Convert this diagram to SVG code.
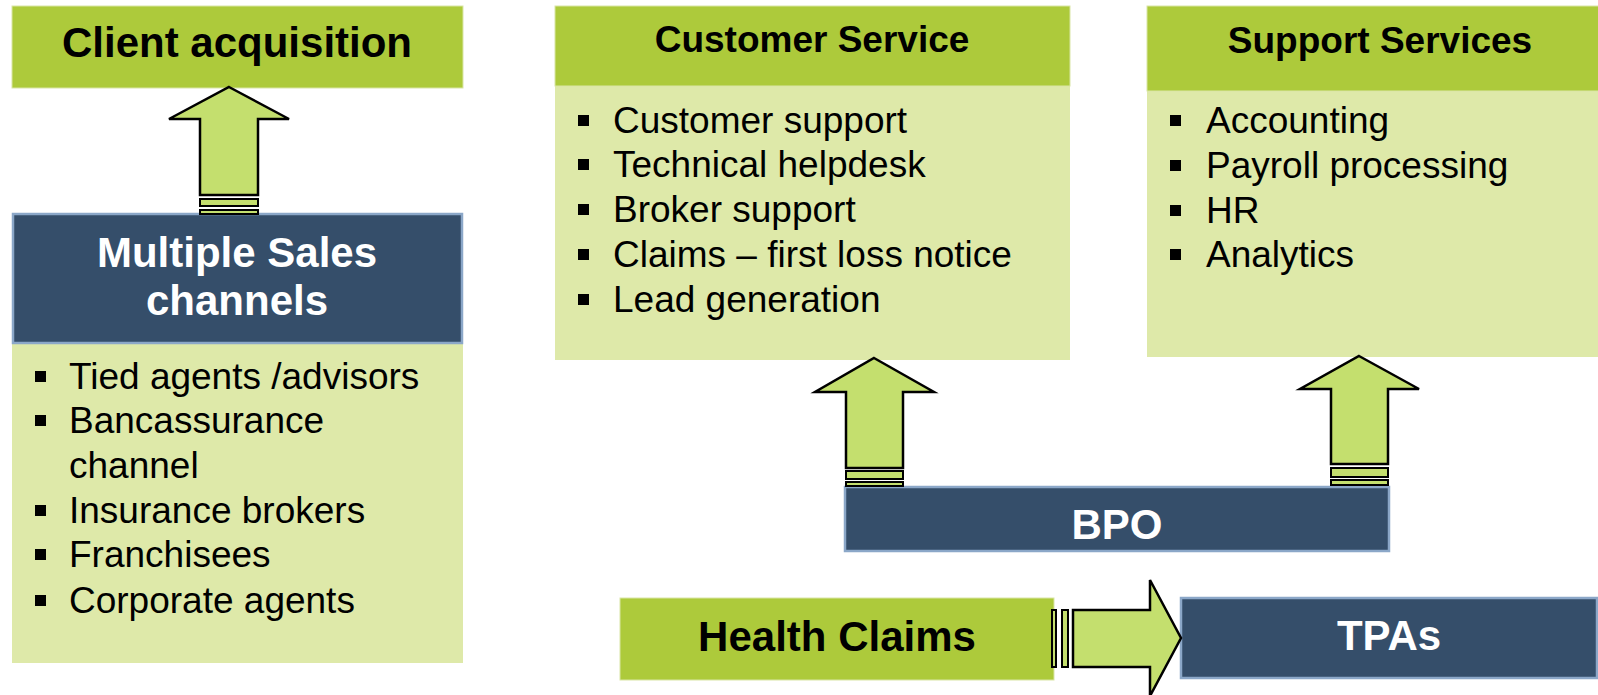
<svg xmlns="http://www.w3.org/2000/svg" width="1598" height="695" viewBox="0 0 1598 695">
  <style>
    .hdr { fill: #adca3b; stroke: #d9e6a6; stroke-width: 1; }
    .body { fill: #dee9a9; }
    .navy { fill: #354e6a; stroke: #8ba7c8; stroke-width: 2.5; }
    .arrow { fill: #c4df6e; stroke: #000; stroke-width: 2.5; stroke-linejoin: miter; }
    .stripe { fill: #c4df6e; stroke: #000; stroke-width: 2; }
    .title { font-family: "Liberation Sans", Arial, sans-serif; font-weight: bold; fill: #000; text-anchor: middle; }
    .wtitle { font-family: "Liberation Sans", Arial, sans-serif; font-weight: bold; fill: #fff; text-anchor: middle; }
    .item { font-family: "Liberation Sans", Arial, sans-serif; font-size: 37px; fill: #000; }
    .bullet { fill: #000; }
  </style>
  <rect width="1598" height="695" fill="#fff"/>

  <!-- Left column: client acquisition -->
  <g id="client-acquisition">
    <rect class="hdr" x="12" y="6" width="451" height="82"/>
    <text class="title" x="237" y="57" font-size="42">Client acquisition</text>
  </g>

  <g id="sales-channels">
    <rect class="body" x="12" y="343" width="451" height="320"/>
    <rect class="navy" x="13" y="214" width="449" height="129"/>
    <text class="wtitle" x="237" y="267" font-size="42">Multiple Sales</text>
    <text class="wtitle" x="237" y="315" font-size="42">channels</text>
    <rect class="bullet" x="35" y="371" width="11" height="11"/>
    <text class="item" x="69" y="389">Tied agents /advisors</text>
    <rect class="bullet" x="35" y="415" width="11" height="11"/>
    <text class="item" x="69" y="433">Bancassurance</text>
    <text class="item" x="69" y="478">channel</text>
    <rect class="bullet" x="35" y="505" width="11" height="11"/>
    <text class="item" x="69" y="523">Insurance brokers</text>
    <rect class="bullet" x="35" y="549" width="11" height="11"/>
    <text class="item" x="69" y="567">Franchisees</text>
    <rect class="bullet" x="35" y="595" width="11" height="11"/>
    <text class="item" x="69" y="613">Corporate agents</text>
  </g>

  <!-- Customer service -->
  <g id="customer-service">
    <rect class="body" x="555" y="86" width="515" height="274"/>
    <rect class="hdr" x="555" y="6" width="515" height="80"/>
    <text class="title" x="812" y="52" font-size="37">Customer Service</text>
    <rect class="bullet" x="578" y="115" width="11" height="11"/>
    <text class="item" x="613" y="133">Customer support</text>
    <rect class="bullet" x="578" y="159" width="11" height="11"/>
    <text class="item" x="613" y="177">Technical helpdesk</text>
    <rect class="bullet" x="578" y="204" width="11" height="11"/>
    <text class="item" x="613" y="222">Broker support</text>
    <rect class="bullet" x="578" y="249" width="11" height="11"/>
    <text class="item" x="613" y="267">Claims – first loss notice</text>
    <rect class="bullet" x="578" y="294" width="11" height="11"/>
    <text class="item" x="613" y="312">Lead generation</text>
  </g>

  <!-- Support services -->
  <g id="support-services">
    <rect class="body" x="1147" y="91" width="460" height="266"/>
    <rect class="hdr" x="1147" y="6" width="460" height="85"/>
    <text class="title" x="1380" y="53" font-size="37">Support Services</text>
    <rect class="bullet" x="1170" y="115" width="11" height="11"/>
    <text class="item" x="1206" y="133">Accounting</text>
    <rect class="bullet" x="1170" y="160" width="11" height="11"/>
    <text class="item" x="1206" y="178">Payroll processing</text>
    <rect class="bullet" x="1170" y="205" width="11" height="11"/>
    <text class="item" x="1206" y="223">HR</text>
    <rect class="bullet" x="1170" y="249" width="11" height="11"/>
    <text class="item" x="1206" y="267">Analytics</text>
  </g>

  <!-- BPO -->
  <g id="bpo">
    <rect class="navy" x="845" y="487" width="544" height="64"/>
    <text class="wtitle" x="1117" y="539" font-size="42">BPO</text>
  </g>

  <!-- Health claims -->
  <g id="health-claims">
    <rect class="hdr" x="620" y="598" width="434" height="82"/>
    <text class="title" x="837" y="651" font-size="42">Health Claims</text>
  </g>

  <!-- TPAs -->
  <g id="tpas">
    <rect class="navy" x="1181" y="598" width="416" height="80"/>
    <text class="wtitle" x="1389" y="650" font-size="42">TPAs</text>
  </g>

  <!-- Block arrows between nodes -->
  <g id="connectors">
    <g id="sales-to-acquisition">
      <path class="arrow" d="M229,87 L289,119 L258,119 L258,195 L200,195 L200,119 L169,119 Z"/>
      <rect class="stripe" x="200" y="199" width="58" height="7"/>
      <rect class="stripe" x="200" y="210" width="58" height="4"/>
    </g>
    <g id="bpo-to-customer-service">
      <path class="arrow" d="M874,358 L934,392 L903,392 L903,468 L846,468 L846,392 L815,392 Z"/>
      <rect class="stripe" x="846" y="471" width="57" height="8"/>
      <rect class="stripe" x="846" y="482" width="57" height="4"/>
    </g>
    <g id="bpo-to-support-services">
      <path class="arrow" d="M1359,356 L1419,389 L1388,389 L1388,464 L1331,464 L1331,389 L1300,389 Z"/>
      <rect class="stripe" x="1331" y="468" width="57" height="9"/>
      <rect class="stripe" x="1331" y="480" width="57" height="5"/>
    </g>
    <g id="health-claims-to-tpas">
      <path class="arrow" d="M1073,610 L1150,610 L1150,580 L1181,638 L1150,696 L1150,667 L1073,667 Z"/>
      <rect class="stripe" x="1052" y="610" width="4" height="57"/>
      <rect class="stripe" x="1062" y="610" width="6" height="57"/>
    </g>
  </g>
</svg>
